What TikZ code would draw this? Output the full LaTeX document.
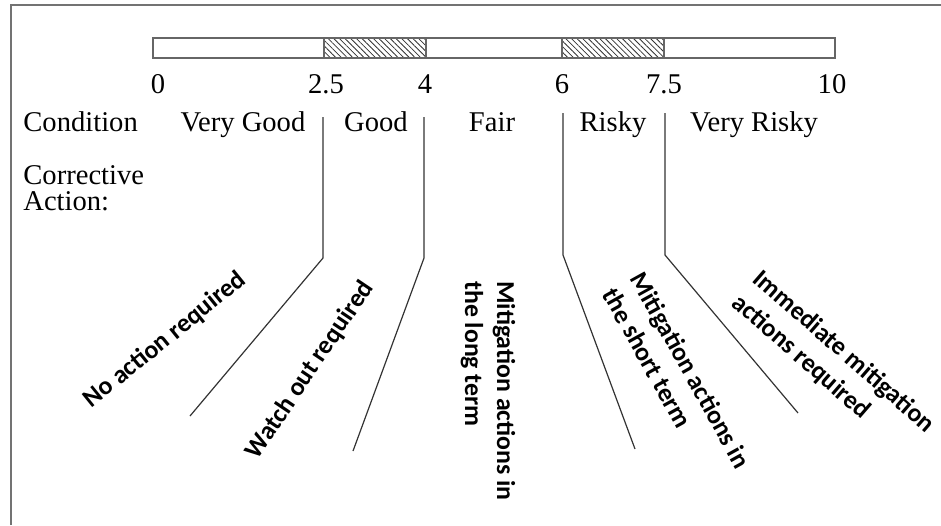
\documentclass[tikz,border=0pt]{standalone}
\usepackage{fontspec}
\setmainfont{Liberation Serif}
\newfontfamily\calibfont{Carlito}
\usetikzlibrary{patterns.meta}
\tikzset{
  frameline/.style={draw=black!55,line width=1pt},
  scalebox/.style={draw=black!60,line width=.6pt},
  hatchbox/.style={scalebox,pattern color=black!80,
    pattern={Lines[angle=-45,distance=2pt,line width=.4pt]}},
  leader/.style={draw=black!80,line width=.6pt}}

\begin{document}
\begin{tikzpicture}[x=.5pt,y=-.5pt,
  serif/.style={font=\fontsize{14.3}{16}\selectfont,inner sep=0pt},
  tick/.style={serif,anchor=base},
  cond/.style={serif,anchor=base},
  action/.style={font=\calibfont\bfseries\fontsize{12.9}{16}\selectfont,
    align=left,inner sep=0pt}]

  \useasboundingbox (0,0) rectangle (941,525);
  \draw[frameline] (11,525) -- (11,5) -- (941,5);

  % condition scale
  \draw[scalebox] (153,38) rectangle (835,58);
  \draw[hatchbox] (324,38) rectangle (426,58);
  \draw[hatchbox] (562,38) rectangle (664,58);

  \node[tick] (tz) at (158,93) {0};
  \node[tick] (tb) at (326,93) {2.5};
  \node[tick] (tc) at (425,93) {4};
  \node[tick] (tf) at (562,93) {6};
  \node[tick] (tg) at (664,93) {7.5};
  \node[tick] (tt) at (832,93) {10};

  \node[cond,anchor=base west] (cname) at (23,131) {Condition};
  \node[cond] (cvg) at (243,131) {Very Good};
  \node[cond] (cg) at (376,131) {Good};
  \node[cond] (cf) at (492,131) {Fair};
  \node[cond] (cr) at (613,131) {Risky};
  \node[cond] (cvr) at (754,131) {Very Risky};

  \node[serif,anchor=base west,align=left] (aname) at (23,210)
    {Corrective\\[-3pt]Action:};

  % leaders between the classes
  \coordinate (kaTop) at (323,117);
  \coordinate (kaKnee) at (323,258);
  \coordinate (kaEnd) at (190,416);
  \coordinate (kbTop) at (424,117);
  \coordinate (kbKnee) at (424,258);
  \coordinate (kbEnd) at (353,451);
  \coordinate (kcTop) at (563,113);
  \coordinate (kcKnee) at (563,255);
  \coordinate (kcEnd) at (635,449);
  \coordinate (kdTop) at (665,113);
  \coordinate (kdKnee) at (665,255);
  \coordinate (kdEnd) at (798,413);

  \draw[leader] (kaTop) -- (kaKnee) -- (kaEnd);
  \draw[leader] (kbTop) -- (kbKnee) -- (kbEnd);
  \draw[leader] (kcTop) -- (kcKnee) -- (kcEnd);
  \draw[leader] (kdTop) -- (kdKnee) -- (kdEnd);

  \node[action,rotate=39] (anone) at (165,340) {No action required};
  \node[action,rotate=56] (awatch) at (310,370) {Watch out required};
  \node[action,rotate=-90] (along) at (488,391)
    {Mitigation actions in\\the long term};
  \node[action,rotate=-61] (ashort) at (677,378)
    {Mitigation actions in\\the short term};
  \node[action,rotate=-41] (anow) at (833,364)
    {Immediate mitigation\\actions required};
\end{tikzpicture}
\end{document}
